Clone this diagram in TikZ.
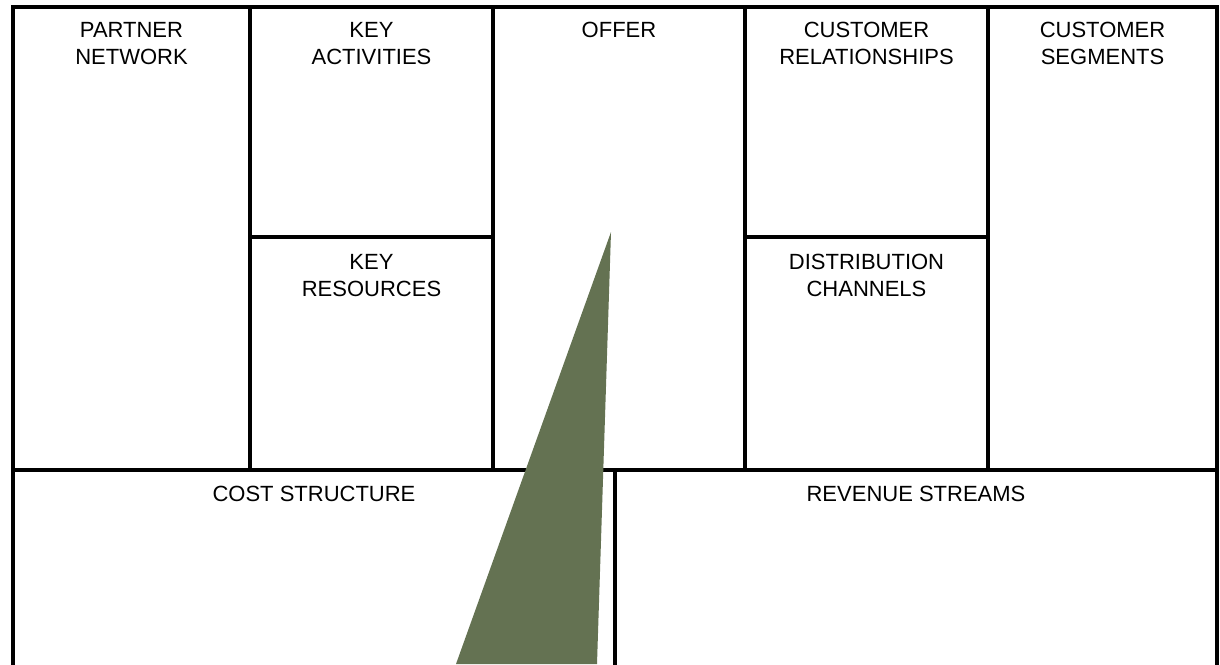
\documentclass[tikz,border=0pt]{standalone}
\usepackage{fontspec}
\setmainfont{Liberation Sans}
\usetikzlibrary{positioning}
\definecolor{pointer}{HTML}{647252}

\begin{document}
\begin{tikzpicture}[
        x=0.5pt, y=-0.5pt,
        frame/.style={draw=black, line width=1.6pt},
        heading/.style={anchor=north, align=center, inner sep=0pt, font=\fontsize{11}{13.5}\selectfont}
    ]

    \useasboundingbox (0,0) rectangle (1220,664);
    \clip (0,0) rectangle (1220,664);

    % canvas blocks
    \draw [frame] (13,7) rectangle (250,470);
    \draw [frame] (250,7) rectangle (493,237);
    \draw [frame] (250,237) rectangle (493,470);
    \draw [frame] (493,7) rectangle (745,470);
    \draw [frame] (745,7) rectangle (988,237);
    \draw [frame] (745,237) rectangle (988,470);
    \draw [frame] (988,7) rectangle (1217,470);
    \draw [frame] (13,470) rectangle (615,720);
    \draw [frame] (615,470) rectangle (1217,720);

    \node (partner) [heading] at (131.5,22) {PARTNER\\NETWORK};
    \node (activities) [heading] at (371.5,22) {KEY\\ACTIVITIES};
    \node (resources) [heading] at (371.5,254) {KEY\\RESOURCES};
    \node (offer) [heading] at (619,22) {OFFER};
    \node (relations) [heading] at (866.5,22) {CUSTOMER\\RELATIONSHIPS};
    \node (channels) [heading] at (866.5,254) {DISTRIBUTION\\CHANNELS};
    \node (segments) [heading] at (1102.5,22) {CUSTOMER\\SEGMENTS};
    \node (costs) [heading] at (314,486) {COST STRUCTURE};
    \node (revenue) [heading] at (916,486) {REVENUE STREAMS};

    % pointer wedge
    \fill [pointer] (611,232) -- (456,664) -- (597,664) -- cycle;

\end{tikzpicture}
\end{document}
